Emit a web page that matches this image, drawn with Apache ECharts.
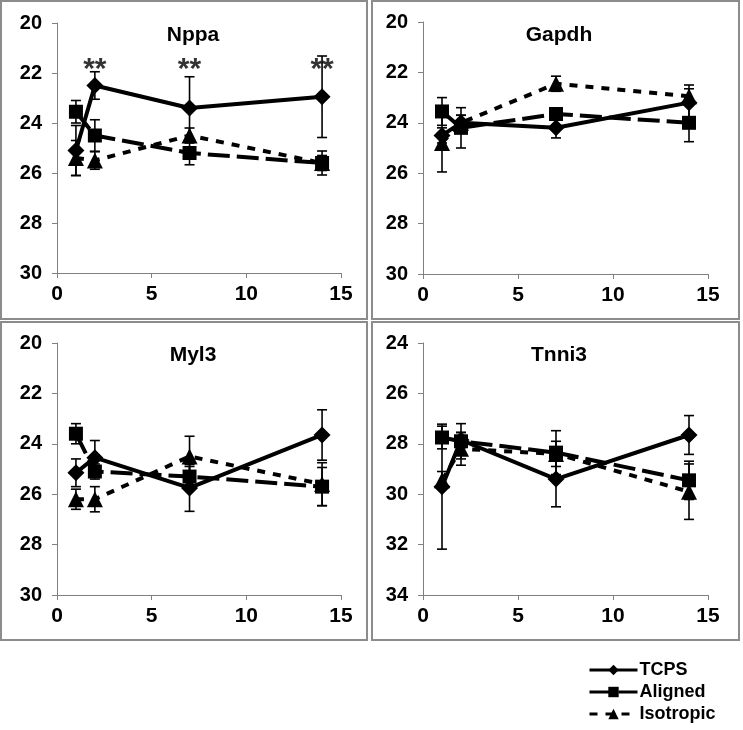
<!DOCTYPE html>
<html>
<head>
<meta charset="utf-8">
<script src="https://cdn.jsdelivr.net/npm/echarts@6/dist/echarts.min.js"></script>
<style>
html, body { margin: 0; padding: 0; background: #fff; }
#main { width: 743px; height: 730px; }
</style>
</head>
<body>
<div id="main"></div>
<script>
// days of culture
var days = [1, 2, 7, 14];
var genes = ['Nppa', 'Gapdh', 'Myl3', 'Tnni3'];
var yMin = [20, 20, 20, 24];
var yMax = [30, 30, 30, 34];

// Ct means and error per gene / substrate
var nppaTcps = [25.1, 22.5, 23.4, 22.95];
var nppaTcpsErr = [1.0, 0.55, 1.25, 1.63];
var nppaAligned = [23.55, 24.5, 25.2, 25.6];
var nppaAlignedErr = [0.45, 0.63, 0.47, 0.48];
var nppaIso = [25.4, 25.5, 24.5, 25.6];
var nppaIsoErr = [0.7, 0.35, 0.3, 0.3];

var gapdhTcps = [24.5, 24.0, 24.2, 23.2];
var gapdhTcpsErr = [0.3, 0.3, 0.4, 0.7];
var gapdhAligned = [23.55, 24.2, 23.65, 24.0];
var gapdhAlignedErr = [0.55, 0.8, 0.2, 0.75];
var gapdhIso = [24.8, 24.0, 22.45, 22.95];
var gapdhIsoErr = [1.15, 0.3, 0.3, 0.3];

var myl3Tcps = [25.15, 24.55, 25.75, 23.65];
var myl3TcpsErr = [0.55, 0.68, 0.93, 1.0];
var myl3Aligned = [23.6, 25.1, 25.3, 25.7];
var myl3AlignedErr = [0.4, 0.3, 0.4, 0.76];
var myl3Iso = [26.2, 26.2, 24.5, 25.6];
var myl3IsoErr = [0.4, 0.5, 0.8, 0.85];

var tnni3Tcps = [29.7, 27.85, 29.4, 27.65];
var tnni3TcpsErr = [2.48, 0.3, 1.1, 0.77];
var tnni3Aligned = [27.75, 27.9, 28.35, 29.45];
var tnni3AlignedErr = [0.45, 0.7, 0.87, 0.76];
var tnni3Iso = [29.45, 28.2, 28.4, 29.9];
var tnni3IsoErr = [0.35, 0.65, 0.5, 1.1];

// significance marks on Nppa
var sigDays = [2, 7, 14];
var sigLevel = 21.88;

var means = [
	[nppaTcps, nppaAligned, nppaIso],
	[gapdhTcps, gapdhAligned, gapdhIso],
	[myl3Tcps, myl3Aligned, myl3Iso],
	[tnni3Tcps, tnni3Aligned, tnni3Iso]
];
var errs = [
	[nppaTcpsErr, nppaAlignedErr, nppaIsoErr],
	[gapdhTcpsErr, gapdhAlignedErr, gapdhIsoErr],
	[myl3TcpsErr, myl3AlignedErr, myl3IsoErr],
	[tnni3TcpsErr, tnni3AlignedErr, tnni3IsoErr]
];
var names = ['TCPS', 'Aligned', 'Isotropic'];
var symbols = ['diamond', 'rect', 'triangle'];
var symSizes = [17, 14, 16];
var dashes = ['solid', [22, 7], [8, 8]];

var font = 'Liberation Sans, Arial, sans-serif';

var dom = document.getElementById('main');
var myChart = echarts.init(dom);

function errRender(params, api) {
	var x = api.value(0);
	var p1 = api.coord([x, api.value(1)]);
	var p2 = api.coord([x, api.value(2)]);
	var w = 5;
	var st = {stroke: '#000', lineWidth: 1.6};
	return {
		type: 'group',
		children: [
			{type: 'line', shape: {x1: p1[0], y1: p1[1], x2: p2[0], y2: p2[1]}, style: st},
			{type: 'line', shape: {x1: p1[0] - w, y1: p1[1], x2: p1[0] + w, y2: p1[1]}, style: st},
			{type: 'line', shape: {x1: p2[0] - w, y1: p2[1], x2: p2[0] + w, y2: p2[1]}, style: st}
		]
	};
}

var grids = [
	{left: 57, top: 23, width: 284, height: 250},
	{left: 423, top: 22, width: 285, height: 252},
	{left: 57, top: 343, width: 284, height: 252},
	{left: 423, top: 343, width: 285, height: 252}
];
var titleX = [188, 554, 188, 554];
var titleY = [20, 20, 340, 340];
var frames = [
	[1, 1, 366, 318],
	[372, 1, 367, 318],
	[1, 322, 366, 318],
	[372, 322, 367, 318]
];

var xAxes = [], yAxes = [], series = [], titles = [], graphics = [];
for (var g = 0; g < 4; g++) {
	xAxes.push({
		gridIndex: g, type: 'value', min: 0, max: 15, interval: 5,
		splitLine: {show: false},
		axisLine: {onZero: false, lineStyle: {color: '#808080', width: 1}},
		axisTick: {length: 5, lineStyle: {color: '#808080'}},
		axisLabel: {color: '#000', fontFamily: font, fontWeight: 'bold', fontSize: 21, margin: 11}
	});
	yAxes.push({
		gridIndex: g, type: 'value', inverse: true, min: yMin[g], max: yMax[g], interval: 2,
		splitLine: {show: false},
		axisLine: {show: true, lineStyle: {color: '#808080', width: 1}},
		axisTick: {show: true, length: 5, lineStyle: {color: '#808080'}},
		axisLabel: {color: '#000', fontFamily: font, fontWeight: 'bold', fontSize: 20, margin: 15}
	});
	titles.push({
		text: genes[g], left: titleX[g], top: titleY[g], textAlign: 'center',
		textStyle: {fontFamily: font, fontWeight: 'bold', fontSize: 21, color: '#000'}
	});
	graphics.push({
		type: 'rect', z: -1,
		shape: {x: frames[g][0], y: frames[g][1], width: frames[g][2], height: frames[g][3]},
		style: {fill: 'none', stroke: '#8c8c8c', lineWidth: 2}
	});
	for (var s = 0; s < 3; s++) {
		var m = means[g][s], e = errs[g][s];
		var errData = days.map(function (d, i) { return [d, m[i] - e[i], m[i] + e[i]]; });
		series.push({
			type: 'custom', name: names[s] + ' err', xAxisIndex: g, yAxisIndex: g,
			renderItem: errRender, data: errData,
			encode: {x: 0, y: [1, 2]}, z: 2, silent: true
		});
		series.push({
			type: 'line', name: names[s], xAxisIndex: g, yAxisIndex: g,
			data: days.map(function (d, i) { return [d, m[i]]; }),
			symbol: symbols[s], symbolSize: symSizes[s], showSymbol: true,
			itemStyle: {color: '#000', borderWidth: 0},
			lineStyle: {color: '#000', width: 4, type: dashes[s]},
			z: 3, animation: false
		});
	}
}

series.push({
	type: 'scatter', name: 'sig', xAxisIndex: 0, yAxisIndex: 0,
	data: sigDays.map(function (d) { return [d, sigLevel]; }),
	symbolSize: 0,
	itemStyle: {color: '#000'},
	label: {show: true, position: 'inside', formatter: '**', color: '#000',
		textBorderWidth: 0, textBorderColor: 'transparent',
		fontFamily: font, fontSize: 30, fontWeight: 'bold'},
	z: 5
});

var option = {
	backgroundColor: '#fff',
	animation: false,
	title: titles,
	grid: grids,
	xAxis: xAxes,
	yAxis: yAxes,
	legend: {
		data: names, orient: 'vertical', left: 588, top: 661, padding: 0,
		itemWidth: 48, itemHeight: 13, itemGap: 4,
		lineStyle: {width: 3},
		textStyle: {fontFamily: font, fontWeight: 'bold', fontSize: 18, color: '#000', padding: [0, 0, 0, -3]}
	},
	graphic: graphics,
	series: series
};
if (option && typeof option === "object") {
	myChart.setOption(option, true);
}
</script>
</body>
</html>
